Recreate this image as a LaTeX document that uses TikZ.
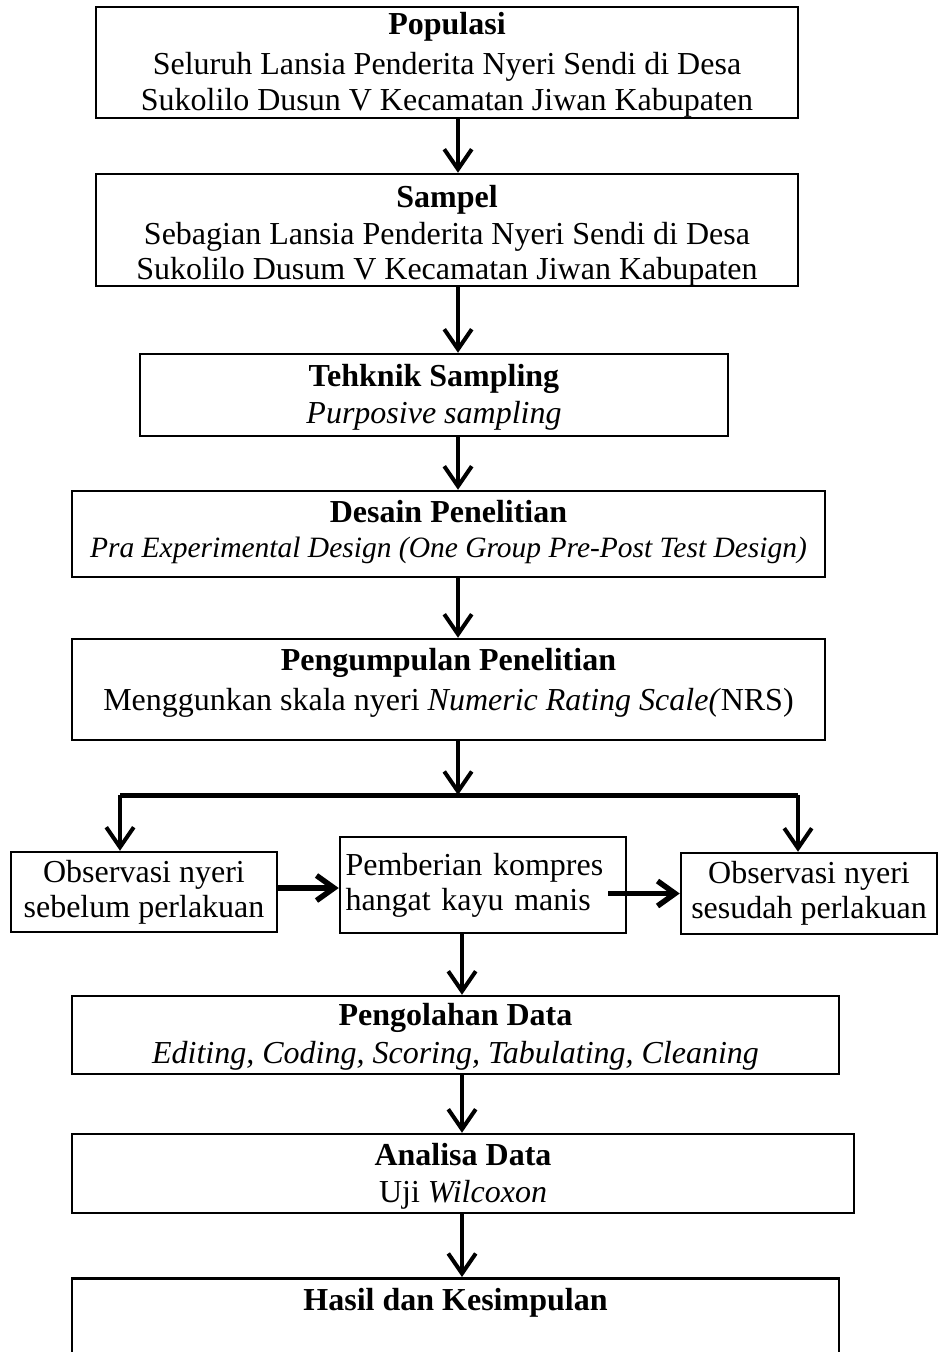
\documentclass[tikz,border=0pt]{standalone}
\usepackage{fontspec}
\setmainfont{Liberation Serif}
\usepackage{tikz}
\usetikzlibrary{arrows.meta, positioning}

\begin{document}
\begin{tikzpicture}[
  x=0.4pt, y=-0.4pt,
  box/.style={rectangle, draw=black, line width=1pt, align=center, inner xsep=2pt, inner ysep=0pt, font=\fontsize{12.8}{14}\selectfont},
  link/.style={-{Straight Barb[length=8pt, width=11pt]}, line width=1.6pt},
  sidelink/.style={-{Straight Barb[length=7pt, width=10pt]}, line width=2.2pt},
  bar/.style={line width=2pt}
]
\clip (0,0) rectangle (939,1352);

% Main column
\node[box, minimum width=280.8pt, minimum height=44.4pt, text height=41.2pt, text depth=3.2pt] (pop) at (447,62.5) {\textbf{Populasi}\\[2pt] Seluruh Lansia Penderita Nyeri Sendi di Desa\\ Sukolilo Dusun V Kecamatan Jiwan Kabupaten};
\node[box, minimum width=280.8pt, minimum height=44.8pt, text height=42pt, text depth=2.8pt] (sampel) at (447,230) {\textbf{Sampel}\\[0.8pt] Sebagian Lansia Penderita Nyeri Sendi di Desa\\ Sukolilo Dusum V Kecamatan Jiwan Kabupaten};
\node[box, minimum width=235.2pt, minimum height=32.8pt, text height=27.6pt, text depth=5.2pt] (teknik) at (434,395) {\textbf{Tehknik Sampling}\\[0.8pt] \textit{Purposive sampling}};
\node[box, minimum width=301.2pt, minimum height=34.4pt, text height=26.4pt, text depth=8pt] (desain) at (448.5,534) {\textbf{Desain Penelitian}\\ {\fontsize{11.8}{14}\selectfont\itshape Pra Experimental Design (One Group Pre-Post Test Design)}};
\node[box, minimum width=301.2pt, minimum height=40.4pt, text height=28.4pt, text depth=12pt] (kumpul) at (448.5,689.5) {\textbf{Pengumpulan Penelitian}\\[2pt] Menggunkan skala nyeri \textit{Numeric Rating Scale(}NRS)};

% Split row
\node[box, minimum width=106.4pt, minimum height=32pt] (obsPre) at (144,892) {Observasi nyeri\\ sebelum perlakuan};
\node[box, minimum width=114.4pt, minimum height=38.4pt, text width=110pt, align=left] (kompres) at (483,885) {Pemberian kompres\\ hangat kayu manis};
\node[box, minimum width=102.4pt, minimum height=32.4pt] (obsPost) at (809,893.5) {Observasi nyeri\\ sesudah perlakuan};

% Lower column
\node[box, minimum width=306.8pt, minimum height=31.2pt, text height=26.8pt, text depth=4.4pt] (olah) at (455.5,1035) {\textbf{Pengolahan Data}\\[1.2pt] \textit{Editing, Coding, Scoring, Tabulating, Cleaning}};
\node[box, minimum width=312.8pt, minimum height=31.6pt, text height=27.2pt, text depth=4.4pt] (analisa) at (463,1173.5) {\textbf{Analisa Data}\\[0.8pt] Uji \textit{Wilcoxon}};
\node[box, minimum width=306.8pt, anchor=north, inner ysep=4pt, text depth=60pt] (hasil) at (455.5,1277) {\textbf{Hasil dan Kesimpulan}};

% Spines and branch bar
\coordinate (spine) at (458,0);
\coordinate (spineLow) at (462,0);
\coordinate (barL) at (120,795);
\coordinate (barR) at (798,795);

% Connections
\draw[link] (pop.south -| spine) -- (sampel.north -| spine);
\draw[link] (sampel.south -| spine) -- (teknik.north -| spine);
\draw[link] (teknik.south -| spine) -- (desain.north -| spine);
\draw[link] (desain.south -| spine) -- (kumpul.north -| spine);
\draw[link] (kumpul.south -| spine) -- (barL -| spine);
\draw[bar] (barL) -- (barR);
\draw[link] (barL) -- (obsPre.north -| barL);
\draw[link] (barR) -- (obsPost.north -| barR);
\draw[sidelink] (obsPre.east |- 0,888) -- (kompres.west |- 0,888);
\draw[sidelink] (kompres.east |- obsPost.west) ++(-19,0) -- (obsPost.west);
\draw[link] (kompres.south -| spineLow) -- (olah.north -| spineLow);
\draw[link] (olah.south -| spineLow) -- (analisa.north -| spineLow);
\draw[link] (analisa.south -| spineLow) -- (hasil.north -| spineLow);

\end{tikzpicture}
\end{document}
